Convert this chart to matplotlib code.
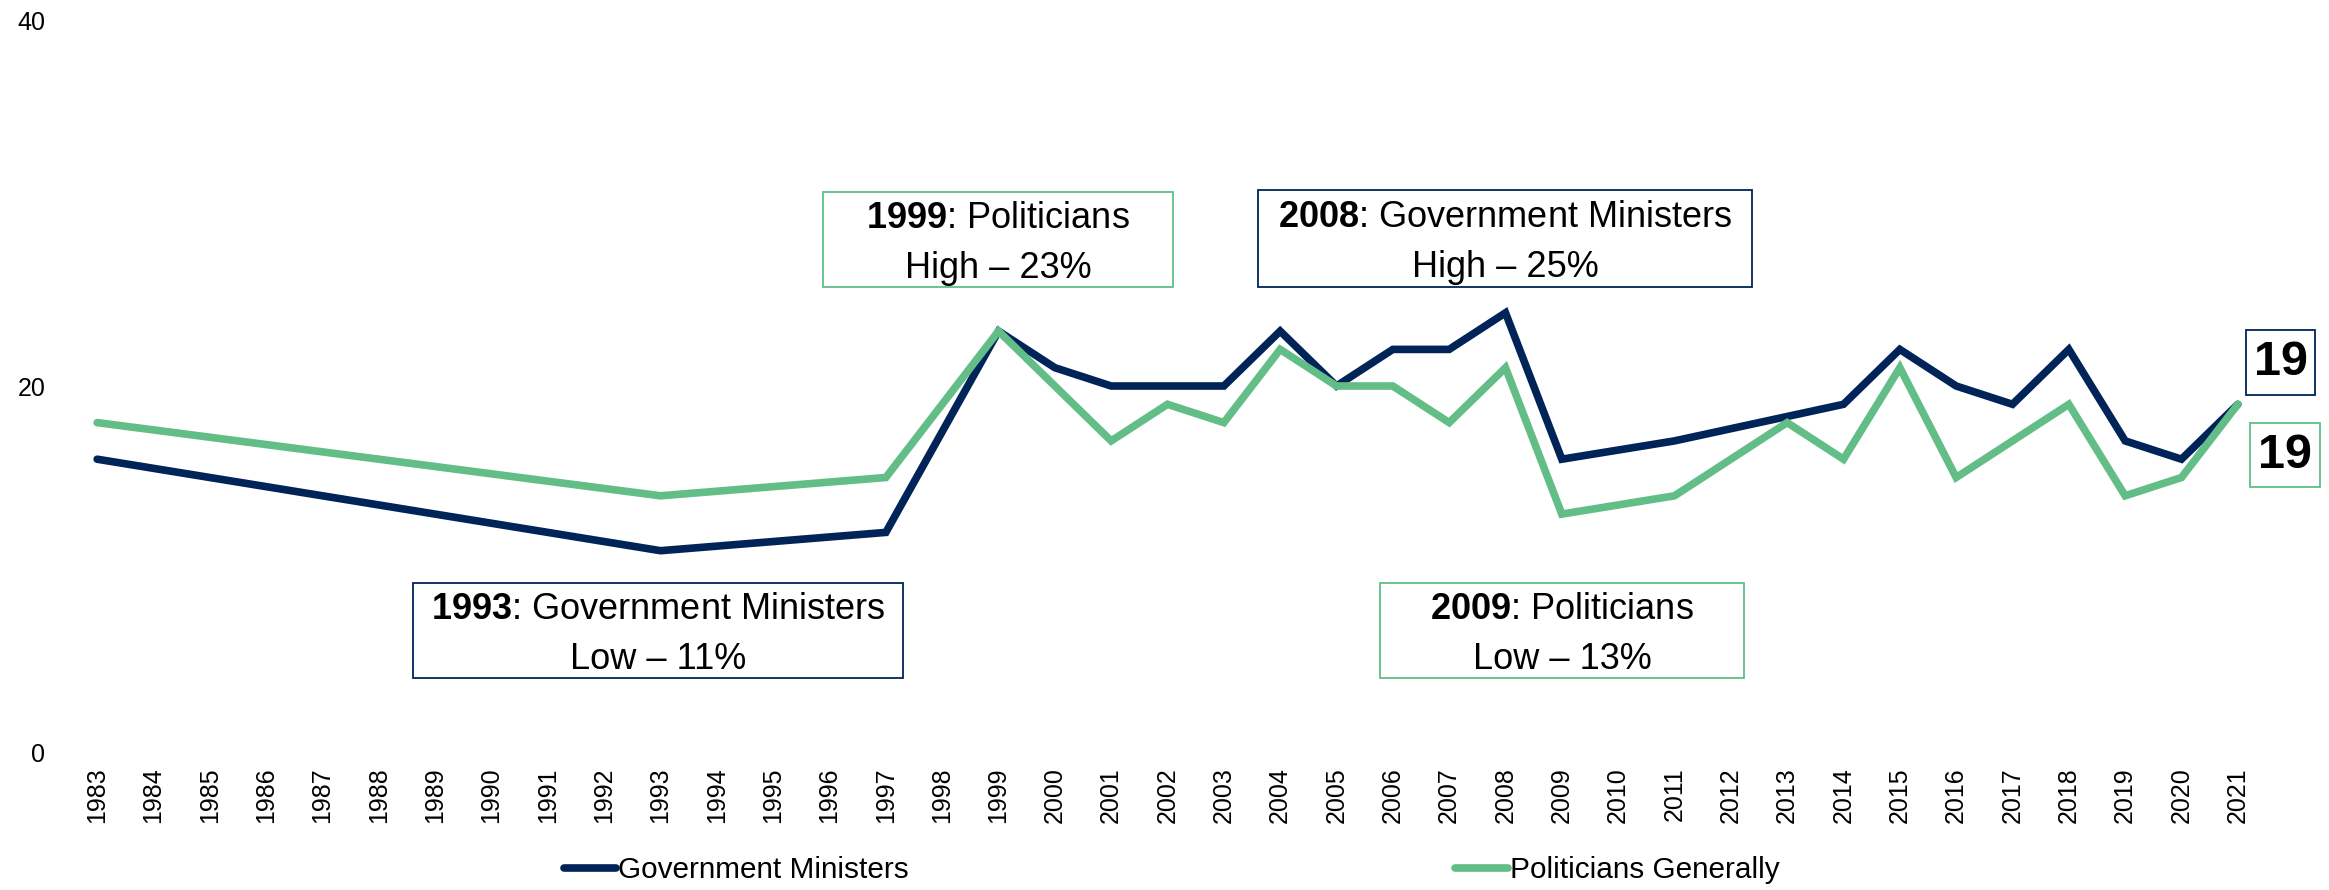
#!/usr/bin/env python3

# Trust in government ministers vs politicians generally, 1983-2021.

import matplotlib
matplotlib.use("Agg")
import matplotlib.pyplot as plt
from matplotlib.patches import Rectangle

plt.rcParams['font.family'] = ['Liberation Sans', 'DejaVu Sans']
plt.rcParams['mathtext.fontset'] = 'custom'
plt.rcParams['mathtext.rm'] = 'Liberation Sans'
plt.rcParams['mathtext.bf'] = 'Liberation Sans:bold'

###############################################################################
# 1. Data
###############################################################################

years = list(range(1983, 2022))

# missing years = no survey, line joins across the gap
govMinisters = {
    1983: 16, 1993: 11, 1997: 12, 1999: 23, 2000: 21, 2001: 20, 2002: 20,
    2003: 20, 2004: 23, 2005: 20, 2006: 22, 2007: 22, 2008: 24, 2009: 16,
    2011: 17, 2014: 19, 2015: 22, 2016: 20, 2017: 19, 2018: 22, 2019: 17,
    2020: 16, 2021: 19,
}
politicians = {
    1983: 18, 1993: 14, 1997: 15, 1999: 23, 2000: 20, 2001: 17, 2002: 19,
    2003: 18, 2004: 22, 2005: 20, 2006: 20, 2007: 18, 2008: 21, 2009: 13,
    2011: 14, 2013: 18, 2014: 16, 2015: 21, 2016: 15, 2017: 17, 2018: 19,
    2019: 14, 2020: 15, 2021: 19,
}

seriesNames = ["Government Ministers", "Politicians Generally"]
yTicks = [0, 20, 40]

NAVY = "#002358"
GREEN = "#62be86"

###############################################################################
# 2. Setup plot
###############################################################################

W, H = 2329, 890
fig = plt.figure(figsize=(W / 100, H / 100), dpi=100)

def px(x0, y0, x1, y1):
    # pixel box (top-left origin) -> figure fraction rect
    return [x0 / W, 1 - y1 / H, (x1 - x0) / W, (y1 - y0) / H]

ax = fig.add_axes(px(69, 20, 2266, 752))

###############################################################################
# 3. Draw plot
###############################################################################

lines = []
for data, color, name in ((govMinisters, NAVY, seriesNames[0]),
                          (politicians, GREEN, seriesNames[1])):
    xs = [years.index(y) for y in years if y in data]
    ys = [data[y] for y in years if y in data]
    ln, = ax.plot(xs, ys, color=color, lw=5.5, label=name,
                  solid_joinstyle="miter", solid_capstyle="round")
    lines.append(ln)

ax.set_xlim(-0.5, len(years) - 0.5)
ax.set_ylim(0, 40)
ax.set_yticks(yTicks)
ax.set_xticks(range(len(years)))
ax.set_xticklabels([str(y) for y in years], rotation=90)
ax.tick_params(axis="x", length=0, pad=11, labelsize=18)
ax.tick_params(axis="y", length=0, pad=17, labelsize=18)
for s in ax.spines.values():
    s.set_visible(False)

# annotation boxes
def box(x0, y0, x1, y1, color, text, size, weight="normal", ls=1.53, dy=0):
    fig.add_artist(Rectangle(px(x0, y0, x1, y1)[:2],
                             (x1 - x0) / W, (y1 - y0) / H,
                             transform=fig.transFigure, fill=False,
                             edgecolor=color, lw=1.3))
    fig.text((x0 + x1) / 2 / W, 1 - ((y0 + y1) / 2 + dy) / H, text,
             ha="center", va="center", fontsize=size, fontweight=weight,
             multialignment="center", linespacing=ls)

box(823, 192, 1173, 287, GREEN,
    "$\\mathbf{1999}$: Politicians\nHigh \u2013 23%", 26, dy=4)
box(1258, 190, 1752, 287, NAVY,
    "$\\mathbf{2008}$: Government Ministers\nHigh \u2013 25%", 26, dy=4)
box(413, 583, 903, 678, NAVY,
    "$\\mathbf{1993}$: Government Ministers\nLow \u2013 11%", 26, dy=4)
box(1380, 583, 1744, 678, GREEN,
    "$\\mathbf{2009}$: Politicians\nLow \u2013 13%", 26, dy=4)
box(2246, 330, 2315, 395, NAVY, "19", 35, weight="bold")
box(2250, 423, 2320, 487, GREEN, "19", 35, weight="bold")

fig.legend(handles=lines, loc="center", bbox_to_anchor=(0.503, 20 / H),
           ncol=2, frameon=False, fontsize=21.4, handlelength=1.75,
           handletextpad=0.07, columnspacing=18.4)

###############################################################################
# 4. Save plot to file
###############################################################################

fig.savefig("out.png", dpi=100)
plt.close()
